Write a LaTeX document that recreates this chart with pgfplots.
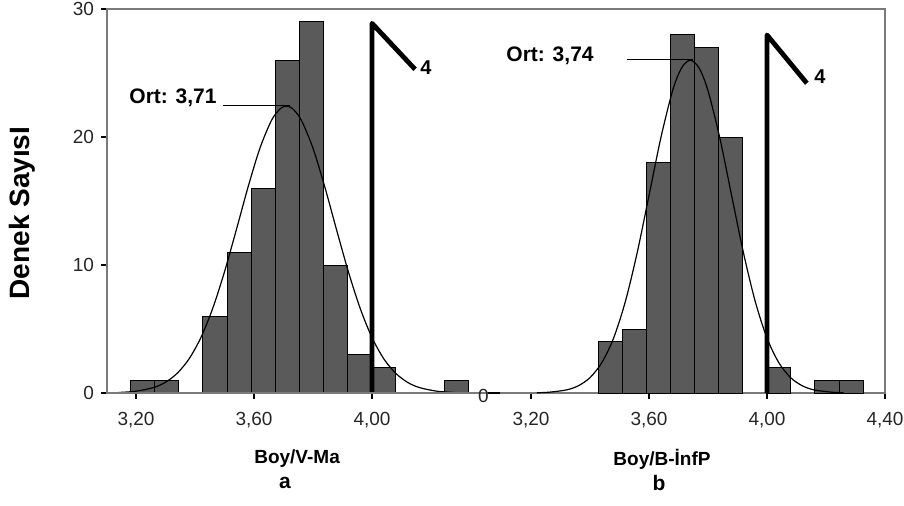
\documentclass[border=0pt]{standalone}
\usepackage{fontspec}
\setmainfont{Liberation Sans}
\usepackage{pgfplots}
\pgfplotsset{compat=1.18}
\definecolor{barfill}{HTML}{5A5A5A}
\definecolor{frame}{HTML}{7A7A7A}
\pgfplotsset{
  histo/.style={
    width=389pt, height=192pt, scale only axis,
    at={(0pt,0pt)}, anchor=south west,
    ymin=0, ymax=30,
    tick pos=left, tick align=outside, major tick length=3pt,
    every tick/.style={black, line width=1pt},
    axis line style={draw=frame, line width=0.6pt},
    ticklabel style={font=\fontsize{9.5}{11}\selectfont, text=black!85},
    xticklabel style={yshift=-3pt},
    clip=false,
  },
  bars/.style={ybar interval, fill=barfill, draw=black, line width=0.5pt},
  curve/.style={smooth, black, line width=0.6pt, mark=none},
  flag/.style={black, line width=2.4pt, line join=round, mark=none},
}
\begin{document}
\begin{tikzpicture}
\useasboundingbox (-53.5pt,-56pt) rectangle (398.5pt,196.5pt);
% ---------------- left panel (Boy/V-Ma) ----------------
\begin{axis}[histo,
  xmin=3.1017, xmax=5.739,
  xtick={3.2,3.6,4.0}, xticklabels={{3,20},{3,60},{4,00}},
  ytick={0,10,20,30}, yticklabels={0,10,20,30},
]
\addplot[bars] coordinates {(3.1820,1) (3.2637,1) (3.3454,0)};
\addplot[bars] coordinates {(3.4271,6) (3.5088,11) (3.5905,16) (3.6722,26) (3.7539,29) (3.8356,10) (3.9173,3) (3.9990,2) (4.0807,0)};
\addplot[bars] coordinates {(4.2441,1) (4.3258,0)};
\addplot[curve] coordinates {
 (3.14,0.04) (3.20,0.14) (3.26,0.43) (3.30,0.84) (3.34,1.55) (3.38,2.67)
 (3.42,4.33) (3.46,6.61) (3.50,9.47) (3.54,12.74) (3.58,16.10) (3.62,19.12)
 (3.66,21.33) (3.69,22.23) (3.71,22.40) (3.73,22.23) (3.76,21.33) (3.80,19.12)
 (3.84,16.10) (3.88,12.74) (3.92,9.47) (3.96,6.61) (4.00,4.33) (4.04,2.67)
 (4.08,1.55) (4.12,0.84) (4.16,0.43) (4.22,0.14) (4.28,0.04)};
\addplot[flag] coordinates {(4.00,0) (4.00,28.88) (4.146,25.29)};
\node[anchor=west, font=\bfseries\fontsize{10}{12}\selectfont, inner sep=0pt] at (axis cs:4.163,25.4) {4};
\node[anchor=base east, font=\bfseries\fontsize{10.5}{12}\selectfont, inner sep=0pt] at (axis cs:3.4746,22.58) {Ort: 3,71};
\draw[black, line width=0.6pt] (axis cs:3.494,22.48) -- (axis cs:3.722,22.48);
\node[font=\bfseries\fontsize{9.5}{11}\selectfont] at (axis cs:3.746,-5.16) {Boy/V-Ma};
\node[font=\bfseries\fontsize{10.5}{12}\selectfont] at (axis cs:3.705,-7.03) {a};
\node[rotate=90, font=\bfseries\fontsize{14}{16}\selectfont] at (axis cs:2.8136,14.06) {Denek SayısI};
\end{axis}
% ---------------- right panel (Boy/B-InfP) ----------------
\begin{axis}[histo,
  xmin=1.7627, xmax=4.40,
  xtick={3.2,3.6,4.0,4.4}, xticklabels={{3,20},{3,60},{4,00},{4,40}},
  ytick=\empty,
]
\addplot[bars] coordinates {(3.4271,4) (3.5088,5) (3.5905,18) (3.6722,28) (3.7539,27) (3.8356,20) (3.9173,0)};
\addplot[bars] coordinates {(3.9990,2) (4.0807,0)};
\addplot[bars] coordinates {(4.1624,1) (4.2441,1) (4.3258,0)};
\addplot[curve] coordinates {
 (3.22,0.02) (3.26,0.06) (3.32,0.24) (3.36,0.56) (3.40,1.20) (3.44,2.37)
 (3.48,4.29) (3.52,7.16) (3.56,10.97) (3.60,15.43) (3.64,19.92) (3.68,23.62)
 (3.71,25.38) (3.74,26.00) (3.77,25.38) (3.80,23.62) (3.84,19.92) (3.88,15.43)
 (3.92,10.97) (3.96,7.16) (4.00,4.29) (4.04,2.37) (4.08,1.20) (4.12,0.56)
 (4.16,0.24) (4.22,0.06) (4.26,0.02)};
\addplot[flag] coordinates {(4.00,0) (4.00,27.97) (4.135,24.2)};
\node[anchor=west, font=\bfseries\fontsize{10}{12}\selectfont, inner sep=0pt] at (axis cs:4.159,24.7) {4};
\node[anchor=base east, font=\bfseries\fontsize{10.5}{12}\selectfont, inner sep=0pt] at (axis cs:3.4136,25.88) {Ort: 3,74};
\draw[black, line width=0.6pt] (axis cs:3.524,26.07) -- (axis cs:3.750,26.07);
\node[font=\fontsize{9.5}{11}\selectfont, text=black!85, inner sep=0pt] at (axis cs:3.039,-0.25) {0};
\draw[black, line width=1pt] (axis cs:3.054,0) -- (axis cs:3.095,0);
\node[font=\bfseries\fontsize{9.5}{11}\selectfont] at (axis cs:3.644,-5.16) {Boy/B-İnfP};
\node[font=\bfseries\fontsize{10.5}{12}\selectfont] at (axis cs:3.634,-7.03) {b};
\end{axis}
\end{tikzpicture}
\end{document}
